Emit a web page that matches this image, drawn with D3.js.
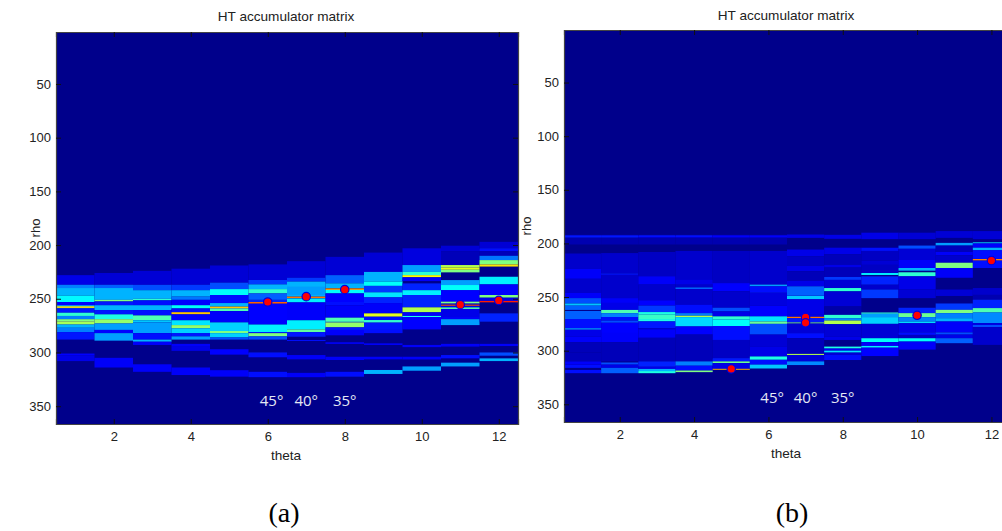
<!DOCTYPE html>
<html>
<head>
<meta charset="utf-8">
<script src="https://cdnjs.cloudflare.com/ajax/libs/d3/7.8.5/d3.min.js"></script>
<style>
  html, body { margin: 0; padding: 0; background: #fff; overflow: hidden; }
  text { font-family: "Liberation Sans", sans-serif; fill: #222; }
</style>
</head>
<body>
<script>
//Axis ticks and labels
var thetaTicks = [2, 4, 6, 8, 10, 12];
var rhoTicks = [50, 100, 150, 200, 250, 300, 350];
var angleLabels = ["45°", "40°", "35°"];
var angleThetas = [6.1, 7, 8];

//Accumulator bands per theta column: [rho start, rho end, level 0-1]
var leftCol1 = [[228,237,.1],[237,240,.25],[240,247,.3],[247,253,.37],[253,256,.13],[256,259,.3],[257,258.5,.66],[259,263,.15],[263,266,.42],[266,269,.25],[269,271,.5],[271,274,.54],[274,277,.3],[277,281,.25],[281,288,.15],[301,302.5,.13],[302.5,308,.1]];
var leftCol2 = [[226,237,.08],[237,240,.22],[240,251,.3],[251,252.5,.5],[252.5,256,.15],[256,260.5,.3],[260.5,264.5,.15],[264.5,269,.4],[269,273,.52],[273,279,.28],[279,282,.13],[282,289,.28],[305,314,.12]];
var leftCol3 = [[224,237,.08],[237,242,.2],[242,250,.3],[250,251.5,.42],[251.5,256,.14],[256,260.5,.3],[260.5,265.5,.14],[265.5,270,.45],[270,272,.32],[272,282,.28],[282,288,.14],[288,290,.3],[290,293,.12],[311,318,.12]];
var leftCol4 = [[222,237,.08],[237,242,.18],[242,248,.3],[248,251,.24],[251,256,.13],[256,259,.38],[259,262.5,.14],[262.5,264.5,.68],[264.5,270,.13],[270,274.5,.35],[274.5,277.5,.52],[277.5,282,.33],[282,285,.15],[285,288,.28],[292,294,.12],[294,298.5,.1],[314,321,.12]];
var leftCol5 = [[219,235,.08],[235,241,.2],[241,246.5,.38],[246.5,254,.14],[254,257.3,.3],[257.3,259,.68],[259,261.5,.45],[261.5,272,.12],[272,280,.33],[280,282,.5],[282,286,.33],[286,288,.2],[297,302,.13],[316.5,322.5,.12]];
var leftCol6 = [[218,232.5,.08],[232.5,236.6,.18],[236.6,241,.3],[241,245,.42],[245,251,.22],[251,253,.16],[253,254.6,.78],[254.6,274,.13],[274,281,.36],[281,282,.15],[282,285,.5],[285,288,.2],[300,304.5,.14],[318,323,.14]];
var leftCol7 = [[215,230.4,.08],[230.4,234,.18],[234,239,.3],[239,246.5,.28],[246.5,248,.3],[248,249.5,.76],[249.5,250,.3],[250,253.4,.36],[253.4,270,.12],[270,278.5,.36],[278.5,281,.47],[281,285.3,.15],[288.4,289.3,.14],[302.4,306.4,.12],[319,323,.12]];
var leftCol8 = [[211,228,.08],[228,235.6,.22],[235.6,240,.3],[240.3,241.8,.72],[241.8,245,.38],[245,253,.13],[253,256,.14],[256,267.6,.12],[267.6,271.5,.45],[271.5,272,.2],[272,276.6,.52],[276.6,279,.15],[279,284,.12],[290.5,292,.12],[304,307,.12],[318,322.5,.14]];
var leftCol9 = [[207,225,.08],[225,234,.3],[234,238,.38],[238,244,.18],[244,248.7,.35],[248.7,254,.16],[254,263.6,.12],[263.6,266.7,.6],[266.7,269.8,.14],[269.8,272.2,.42],[272.2,279,.15],[279,282,.14],[291.5,293,.12],[304,306.4,.12],[316.3,320,.3]];
var leftCol10 = [[203,218.6,.09],[218.6,225,.28],[225,228,.42],[228,230,.62],[230,233.5,.12],[235.7,242,.16],[242,246.5,.36],[246.5,258,.16],[258,262.6,.55],[262.6,266,.12],[266,267,.4],[267,278.5,.13],[293,295,.12],[304,306.5,.12],[313,317,.28]];
var leftCol11 = [[200.6,206,.08],[206,218.6,.05],[218.6,221,.55],[221,223,.6],[223,225.4,.5],[232.6,237.2,.28],[237.2,242,.38],[242,252.7,.13],[252.7,254.5,.5],[254.5,255.5,.1],[255.5,256.6,.8],[256.6,258,.1],[258,259.5,.45],[259.5,267,.1],[267,269,.12],[269,274.5,.28],[292,294.5,.12],[302.4,305.5,.14],[309.5,313,.28]];
var leftCol12 = [[197,203,.08],[203,205.6,.14],[205.6,210,.05],[210,214,.24],[214,218,.5],[218,220,.65],[229.5,236.6,.36],[236.6,246.5,.13],[246.5,249,.5],[249,252,.1],[252,253.3,.85],[263.6,271.3,.16],[292,294,.12],[300,303,.2],[305.5,308,.3]];
var leftColumns = [leftCol1, leftCol2, leftCol3, leftCol4, leftCol5, leftCol6, leftCol7, leftCol8, leftCol9, leftCol10, leftCol11, leftCol12];

var rightCol1 = [[192,201,.04],[192.5,194.4,.15],[209.4,223.7,.07],[223.7,233,.12],[233,246,.07],[246,251,.12],[251,256,.2],[256,258,.32],[258,262,.22],[263,270.5,.22],[270.5,279,.14],[279,280.5,.26],[280.5,287,.1],[287,292,.12],[292,301.6,.05],[301.6,310,.05],[310,313,.12],[313,316,.14],[318,321,.14]];
var rightCol2 = [[192,201,.04],[192.5,194.4,.15],[209,228,.07],[228,229.3,.15],[229.3,251,.07],[251,255.5,.12],[255.5,262,.1],[262,265,.45],[265,268.6,.25],[268.6,272,.14],[272,274,.2],[274,283.5,.13],[283.5,292,.12],[292,310,.05],[311,313,.2],[313,316,.1],[316,321,.22]];
var rightCol3 = [[192,201,.04],[192.5,194.4,.14],[208,230.6,.06],[230.6,238.4,.12],[238.4,253,.07],[253,258,.13],[258,264,.18],[264,266.4,.4],[266.4,270.5,.43],[270.5,272.7,.4],[272.7,279,.15],[279,280,.08],[280,288,.12],[288,310,.05],[310,315,.16],[315,317,.1],[317,319,.3],[319,321,.4]];
var rightCol4 = [[192,201,.04],[192.5,194.4,.14],[207,241,.07],[234,238,.1],[241,242.5,.22],[242.5,257,.07],[257,265,.14],[265,267.4,.25],[267.4,268.7,.55],[268.7,277.4,.34],[277.4,285,.13],[285,310,.05],[310,314,.25],[314,318.5,.14],[318.5,320,.5]];
var rightCol5 = [[192,201,.04],[192.5,194.4,.12],[207,237,.06],[237,244.7,.13],[244.7,260,.07],[260,263.4,.2],[263.4,268,.1],[268,271,.42],[271,277,.38],[277,290,.14],[290,307,.06],[307,310,.15],[310,311.6,.48],[311.6,316.9,.1],[316.9,317.8,.7]];
var rightCol6 = [[192,201,.04],[192.5,194.4,.12],[207,238.4,.07],[238.4,240,.28],[240,246,.14],[246,258,.09],[258,268,.13],[268,272.8,.35],[272.8,275,.48],[275,285,.2],[285,296,.08],[296,305.4,.1],[305.4,308.5,.4],[308.5,313,.14],[313,316.6,.32]];
var rightCol7 = [[191.7,194.8,.1],[205.7,212,.1],[212,221,.06],[221,226,.1],[226,235,.05],[235,240,.1],[240,248.8,.22],[249,252,.32],[252,266.6,.1],[266.6,268.4,.1],[268.4,269.7,.76],[269.7,273.7,.15],[273.7,274.7,.5],[274.7,283.7,.08],[283.7,288.4,.14],[288.4,303,.05],[303,304,.55],[304,310,.08],[310,313.4,.26]];
var rightCol8 = [[192,195.7,.1],[204,210,.1],[210,220,.05],[220,222.5,.1],[222.5,231.3,.05],[231.3,234,.18],[234,241.6,.08],[241.6,244.7,.42],[244.7,258.8,.08],[258.8,266.6,.03],[266.6,269.7,.42],[269.7,271.9,.26],[271.9,275.3,.55],[275.3,287,.08],[287,290,.1],[296.2,298,.4],[298,300,.12],[300,301.8,.35],[301.8,304,.08],[304,308.7,.14]];
var rightCol9 = [[190,196,.1],[204,207,.14],[207,216,.06],[216,220,.08],[220,227.6,.06],[227.6,229.4,.36],[230.7,238.5,.16],[238.5,243,.07],[243,251,.18],[264.4,265.6,.42],[265.6,268.7,.28],[268.7,275,.33],[275,288.4,.08],[288.4,292,.38],[292,295.6,.12],[295.6,297.2,.36],[297.2,305,.13]];
var rightCol10 = [[190,196,.08],[202,205,.2],[205,215,.08],[215,222.9,.12],[222.9,225.4,.3],[226.9,230.7,.42],[230.7,243,.1],[243,251,.08],[260,265,.16],[265,268.7,.48],[268.7,272.8,.25],[272.8,274.4,.34],[274.4,283,.1],[283,285.3,.14],[285.3,288.4,.06],[288.4,291.5,.38],[291.5,299,.12]];
var rightCol11 = [[188.5,194.8,.08],[199.5,202,.28],[202,208,.05],[208,211,.12],[211,218,.07],[218,222.9,.5],[222.9,232,.12],[243,249,.08],[256,261.9,.18],[261.9,265,.5],[265,269.7,.25],[269.7,272.8,.3],[272.8,283,.12],[283,285,.2],[285,288.4,.1],[288.4,293,.22]];
var rightCol12 = [[188.5,196,.08],[199,200,.35],[200,204,.13],[204,206.3,.3],[206.3,214.5,.14],[214.5,216,.75],[216,222.9,.14],[241.6,248,.07],[248,252.5,.04],[252.5,260.3,.16],[260.3,264.4,.45],[264.4,274.4,.26],[274.4,276,.1],[276,278,.2],[278,294.6,.07]];
var rightColumns = [rightCol1, rightCol2, rightCol3, rightCol4, rightCol5, rightCol6, rightCol7, rightCol8, rightCol9, rightCol10, rightCol11, rightCol12];

//Detected peaks: [theta, rho]
var leftPeaks = [[6, 253], [7, 248], [8, 241.5], [11, 255.5], [12, 251.5]];
var rightPeaks = [[5, 317], [7, 269], [7, 274], [10, 267], [12, 216]];

//Jet colormap
var jet = d3
  .scaleLinear()
  .domain([0, 0.125, 0.375, 0.625, 0.875, 1])
  .range(["#00008b", "#0000ff", "#00ffff", "#ffff00", "#ff0000", "#800000"])
  .clamp(true);

var svg = d3.select("body").append("svg").attr("width", 1002).attr("height", 531);

//The source is a resampled bitmap, soften the cells a little
svg
  .append("filter")
  .attr("id", "soft")
  .attr("x", "-2%")
  .attr("y", "-2%")
  .attr("width", "104%")
  .attr("height", "104%")
  .append("feGaussianBlur")
  .attr("stdDeviation", 0.45);

function drawPanel(columns, peaks, box, tag, opts) {
  var xScale = d3.scaleLinear().domain([0.5, 12.5]).range([box.left, box.right]);
  var yScale = d3.scaleLinear().domain([box.rho0, box.rho1]).range([box.top, box.bottom]);

  var clipId = "clip-" + tag;
  svg
    .append("clipPath")
    .attr("id", clipId)
    .append("rect")
    .attr("x", box.left)
    .attr("y", box.top)
    .attr("width", box.right - box.left)
    .attr("height", box.bottom - box.top);

  var outer = svg.append("g").attr("clip-path", "url(#" + clipId + ")");

  outer
    .append("rect")
    .attr("x", box.left)
    .attr("y", box.top)
    .attr("width", box.right - box.left)
    .attr("height", box.bottom - box.top)
    .attr("fill", jet(0));

  var g = outer.append("g").attr("filter", "url(#soft)");

  //One group per theta column
  var cols = g
    .selectAll("g.col")
    .data(columns)
    .enter()
    .append("g")
    .attr("class", "col");

  cols
    .selectAll("rect")
    .data(function (d, i) {
      return d.map(function (b) {
        return { theta: i + 1, r0: b[0], r1: b[1], v: b[2] };
      });
    })
    .enter()
    .append("rect")
    .attr("x", function (d) {
      return xScale(d.theta - 0.5);
    })
    .attr("width", function (d) {
      return xScale(d.theta + 0.5) - xScale(d.theta - 0.5);
    })
    .attr("y", function (d) {
      return yScale(d.r0);
    })
    .attr("height", function (d) {
      return yScale(d.r1) - yScale(d.r0);
    })
    .attr("fill", function (d) {
      return jet(d.v);
    });

  //Peaks
  g.selectAll("circle")
    .data(peaks)
    .enter()
    .append("circle")
    .attr("cx", function (d) {
      return xScale(d[0]);
    })
    .attr("cy", function (d) {
      return yScale(d[1]);
    })
    .attr("r", 4.2)
    .attr("fill", "#ff0000")
    .attr("stroke", "#0000e0")
    .attr("stroke-width", 1.2);

  //Angle notes
  outer
    .selectAll("text.angle")
    .data(angleLabels)
    .enter()
    .append("text")
    .attr("class", "angle")
    .attr("x", function (d, i) {
      return xScale(angleThetas[i]);
    })
    .attr("y", opts.angleY)
    .attr("text-anchor", "middle")
    .attr("dominant-baseline", "central")
    .style("font-family", "'Open Sans', sans-serif")
    .style("font-size", "15px")
    .style("font-weight", 500)
    .style("fill", "#e4e8f4")
    .text(function (d) {
      return d;
    });

  //Axes, ticks point inward
  var xAxis = d3.axisBottom(xScale).tickValues(thetaTicks).tickSize(-5).tickPadding(8);
  var yAxis = d3.axisLeft(yScale).tickValues(rhoTicks).tickSize(-5).tickPadding(5);
  var xTop = d3.axisTop(xScale).tickValues(thetaTicks).tickSize(-5).tickFormat("");
  var yRight = d3.axisRight(yScale).tickValues(rhoTicks).tickSize(-5).tickFormat("");

  var axes = [
    [xAxis, 0, box.bottom],
    [yAxis, box.left, 0],
    [xTop, 0, box.top],
    [yRight, box.right, 0],
  ];
  axes.forEach(function (a) {
    var ag = svg
      .append("g")
      .attr("transform", "translate(" + a[1] + "," + a[2] + ")")
      .call(a[0]);
    ag.selectAll("text").style("font-size", "13px").style("font-family", "'Liberation Sans', sans-serif").attr("fill", "#222");
    ag.select(".domain").attr("stroke", "#444").attr("stroke-width", 1.2);
    ag.selectAll(".tick line").attr("stroke", "#111");
  });

  svg
    .append("text")
    .attr("x", opts.midX)
    .attr("y", opts.titleY)
    .attr("text-anchor", "middle")
    .style("font-size", "13.6px")
    .text("HT accumulator matrix");

  svg
    .append("text")
    .attr("x", opts.midX)
    .attr("y", opts.xLabelY)
    .attr("text-anchor", "middle")
    .style("font-size", "13.6px")
    .text("theta");

  svg
    .append("text")
    .attr("transform", "translate(" + opts.yLabelX + "," + (box.top + box.bottom) / 2 + ") rotate(-90)")
    .attr("text-anchor", "middle")
    .style("font-size", "13px")
    .text("rho");

  svg
    .append("text")
    .attr("x", opts.tagX)
    .attr("y", 522)
    .attr("text-anchor", "middle")
    .style("font-family", "'Liberation Serif', serif")
    .style("font-size", "28px")
    .style("fill", "#000")
    .text("(" + tag + ")");
}

drawPanel(leftColumns, leftPeaks, { left: 56, right: 518, top: 32, bottom: 424, rho0: 1.6, rho1: 366.6 }, "a", { angleY: 400, midX: 286, titleY: 21, xLabelY: 460, yLabelX: 40, tagX: 284 });
drawPanel(rightColumns, rightPeaks, { left: 564, right: 1010, top: 30, bottom: 422, rho0: 1, rho1: 366.5 }, "b", { angleY: 397, midX: 786, titleY: 20, xLabelY: 458, yLabelX: 531, tagX: 792 });
</script>
</body>
</html>
